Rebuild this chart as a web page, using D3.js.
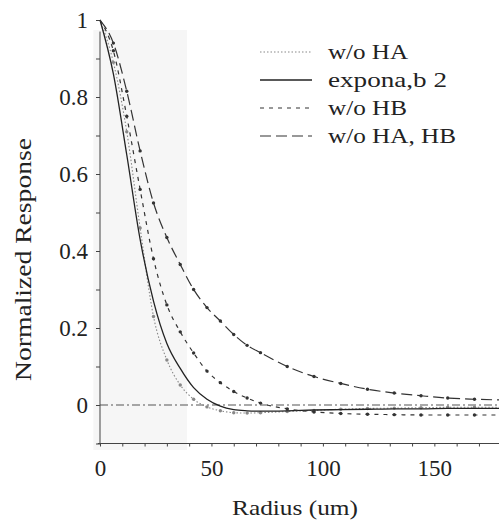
<!DOCTYPE html>
<html>
<head>
<meta charset="utf-8">
<title>Normalized Response vs Radius</title>
<script src="https://d3js.org/d3.v7.min.js"></script>
<style>
  body { margin: 0; background: #fff; }
  svg { display: block; font-family: "Liberation Serif", "Times New Roman", serif; }
  .axis path, .axis line { stroke: #444; }
  .axis text { font-family: "Liberation Serif", "Times New Roman", serif; font-size: 23px; fill: #222; }
</style>
</head>
<body>
<div id="chart"></div>
<script>
// radius values (um) where the curves were sampled
var radius = [0, 6, 12, 18, 24, 30, 36, 42, 48, 54, 60, 66, 72, 84, 96, 108, 120, 132, 144, 156, 168, 180];

// series values
var woHA   = [1, 0.89, 0.71, 0.46, 0.23, 0.117, 0.052, 0.015, -0.005, -0.015, -0.02, -0.021, -0.02, -0.017, -0.014, -0.011, -0.009, -0.008, -0.007, -0.006, -0.006, -0.006];
var expAB  = [1, 0.86, 0.65, 0.43, 0.27, 0.16, 0.095, 0.045, 0.015, -0.003, -0.012, -0.015, -0.016, -0.015, -0.013, -0.012, -0.011, -0.01, -0.01, -0.009, -0.009, -0.009];
var woHB   = [1, 0.92, 0.75, 0.56, 0.38, 0.26, 0.19, 0.135, 0.088, 0.058, 0.035, 0.018, 0.005, -0.01, -0.018, -0.022, -0.024, -0.025, -0.026, -0.026, -0.026, -0.026];
var woHAHB = [1, 0.94, 0.815, 0.66, 0.525, 0.435, 0.365, 0.30, 0.253, 0.218, 0.183, 0.155, 0.136, 0.10, 0.074, 0.056, 0.041, 0.031, 0.024, 0.018, 0.015, 0.013];

var seriesNames = ["w/o HA", "expona,b  2", "w/o HB", "w/o HA, HB"];
var seriesValues = [woHA, expAB, woHB, woHAHB];

var xTicks = [0, 50, 100, 150];
var yTicks = [0, 0.2, 0.4, 0.6, 0.8, 1];

// drawing styles for each series, same order as the names
var styles = [
  {dash: "1.5,2", color: "#888", width: 1.1, marks: true,  legendWidth: 80},
  {dash: null,    color: "#222", width: 1.3, marks: false, legendWidth: 119},
  {dash: "4,5",   color: "#333", width: 1.2, marks: true,  legendWidth: 79},
  {dash: "11,5",  color: "#333", width: 1.2, marks: true,  legendWidth: 128}
];

var width = 499, height = 521;

var x = d3.scaleLinear().domain([0, 179]).range([100, 499]);
var y = d3.scaleLinear().domain([-0.1, 1]).range([443.5, 20]);

var svg = d3.select("#chart").append("svg")
  .attr("width", width)
  .attr("height", height);

// faint grey band from the scan
svg.append("rect")
  .attr("x", x(-3)).attr("y", 30)
  .attr("width", x(39) - x(-3)).attr("height", 420)
  .attr("fill", "#f6f6f6");

// zero reference line
svg.append("line")
  .attr("x1", x(0)).attr("x2", x(179))
  .attr("y1", y(0)).attr("y2", y(0))
  .attr("stroke", "#555").attr("stroke-width", 1.1)
  .attr("stroke-dasharray", "8,3,2,3");

// axes
var xAxis = svg.append("g").attr("class", "axis")
  .attr("transform", "translate(0," + y(-0.1) + ")")
  .call(d3.axisBottom(x).tickValues(d3.range(0, 180, 10)).tickSize(3).tickFormat(""));
xAxis.select(".domain").attr("d", "M" + x(-1) + ",0H" + x(179));

svg.append("g").attr("class", "axis")
  .attr("transform", "translate(0," + (y(-0.1) + 8) + ")")
  .call(d3.axisBottom(x).tickValues(xTicks).tickSize(0).tickPadding(8))
  .call(g => g.select(".domain").remove());

var yAxis = svg.append("g").attr("class", "axis")
  .attr("transform", "translate(" + x(0) + ",0)")
  .call(d3.axisLeft(y).tickValues(d3.range(-0.1, 1.001, 0.1)).tickSize(4).tickFormat(""));
yAxis.select(".domain").attr("d", "M0," + y(0.97) + "V" + y(-0.1));

svg.append("g").attr("class", "axis")
  .attr("transform", "translate(" + (x(0) - 12) + ",0)")
  .call(d3.axisLeft(y).tickValues(yTicks).tickSize(0).tickPadding(0).tickFormat(d3.format("")))
  .call(g => g.select(".domain").remove());

// axis titles
svg.append("text")
  .attr("x", 232).attr("y", 515)
  .attr("textLength", 126).attr("lengthAdjust", "spacingAndGlyphs")
  .style("font-size", "22px").attr("fill", "#222")
  .text("Radius (um)");

svg.append("text")
  .attr("transform", "translate(31,381) rotate(-90)")
  .attr("textLength", 243).attr("lengthAdjust", "spacingAndGlyphs")
  .style("font-size", "23px").attr("fill", "#222")
  .text("Normalized Response");

// curves
var line = d3.line()
  .x((d, i) => x(radius[i]))
  .y(d => y(d))
  .curve(d3.curveMonotoneX);

seriesValues.forEach(function (vals, k) {
  var s = styles[k];
  svg.append("path")
    .datum(vals)
    .attr("d", line)
    .attr("fill", "none")
    .attr("stroke", s.color)
    .attr("stroke-width", s.width)
    .attr("stroke-dasharray", s.dash);
  if (s.marks) {
    svg.append("g").selectAll("circle")
      .data(vals.slice(1))
      .join("circle")
      .attr("cx", (d, i) => x(radius[i + 1]))
      .attr("cy", d => y(d))
      .attr("r", 1.7)
      .attr("fill", s.color);
  }
});

// legend
var legend = svg.append("g").attr("transform", "translate(260,52)");
seriesNames.forEach(function (name, i) {
  var s = styles[i];
  var row = legend.append("g").attr("transform", "translate(0," + (i * 28) + ")");
  row.append("line")
    .attr("x1", 0).attr("x2", 52)
    .attr("stroke", s.color)
    .attr("stroke-width", s.width)
    .attr("stroke-dasharray", s.dash);
  row.append("text")
    .attr("x", 68).attr("y", 7)
    .attr("textLength", s.legendWidth).attr("lengthAdjust", "spacingAndGlyphs")
    .style("font-size", "22px").attr("fill", "#222")
    .text(name);
});
</script>
</body>
</html>
